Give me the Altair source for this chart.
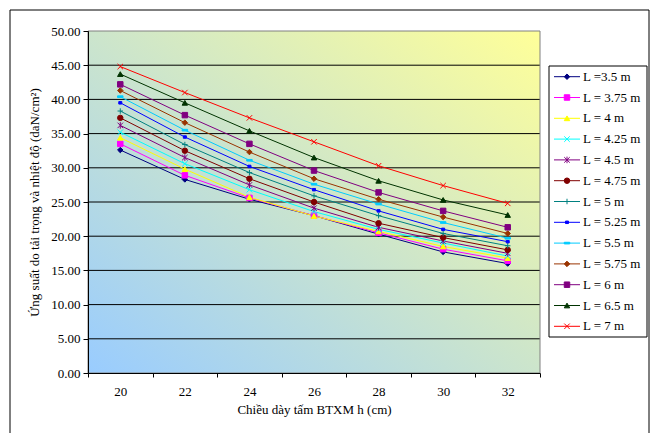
import altair as alt
import pandas as pd

# ---------------- data ----------------
h = [20, 22, 24, 26, 28, 30, 32]

series = ["L =3.5 m", "L = 3.75 m", "L = 4 m", "L = 4.25 m", "L = 4.5 m",
          "L = 4.75 m", "L = 5 m", "L = 5.25 m", "L = 5.5 m", "L = 5.75 m",
          "L = 6 m", "L = 6.5 m", "L = 7 m"]

v_3_5 = [32.6, 28.3, 25.4, 23.0, 20.3, 17.7, 16.0]
v_3_75 = [33.5, 28.9, 25.6, 23.0, 20.5, 18.1, 16.4]
v_4 = [34.4, 29.8, 25.7, 22.95, 20.7, 18.5, 16.8]
v_4_25 = [35.2, 30.6, 26.8, 23.6, 21.0, 19.0, 17.1]
v_4_5 = [36.2, 31.5, 27.5, 24.1, 21.3, 19.3, 17.5]
v_4_75 = [37.3, 32.5, 28.4, 25.0, 21.9, 19.8, 18.0]
v_5 = [38.3, 33.4, 29.3, 25.9, 23.0, 20.4, 18.6]
v_5_25 = [39.5, 34.5, 30.2, 26.8, 23.7, 21.0, 19.2]
v_5_5 = [40.4, 35.5, 31.1, 27.6, 24.7, 22.0, 19.7]
v_5_75 = [41.3, 36.6, 32.3, 28.4, 25.4, 22.8, 20.4]
v_6 = [42.2, 37.7, 33.5, 29.6, 26.4, 23.7, 21.3]
v_6_5 = [43.7, 39.5, 35.4, 31.5, 28.1, 25.3, 23.1]
v_7 = [44.8, 41.0, 37.3, 33.8, 30.3, 27.4, 24.8]

all_values = [v_3_5, v_3_75, v_4, v_4_25, v_4_5, v_4_75, v_5, v_5_25,
              v_5_5, v_5_75, v_6, v_6_5, v_7]

y_ticks = [0, 5, 10, 15, 20, 25, 30, 35, 40, 45, 50]
grid_values = [5, 10, 15, 20, 25, 30, 35, 40, 45]

# ---------------- styles ----------------
colors = ["#000080", "#FF00FF", "#FFFF00", "#00FFFF", "#800080", "#800000",
          "#008080", "#0000FF", "#00CCFF", "#993300", "#800080", "#003300",
          "#FF0000"]

X_PATH = "M-1,-1L1,1M-1,1L1,-1"
STAR_PATH = "M-1,-1L1,1M-1,1L1,-1M0,-1.2L0,1.2"
PLUS_PATH = "M-1,0L1,0M0,-1L0,1"
SHORT_DASH = "M-0.55,-0.45H0.55V0.45H-0.55Z"
LONG_DASH = "M-1,-0.3H1V0.3H-1Z"
shapes = ["diamond", "square", "triangle-up", X_PATH, STAR_PATH, "circle",
          PLUS_PATH, SHORT_DASH, LONG_DASH, "diamond", "square",
          "triangle-up", X_PATH]

rows = []
for i, (name, vals) in enumerate(zip(series, all_values)):
    for x, y in zip(h, vals):
        rows.append({"series": name, "h": x, "v": y, "idx": i})
df = pd.DataFrame(rows)
leg_df = pd.DataFrame({"series": series, "idx": list(range(len(series)))})
grid_df = pd.DataFrame({"v": grid_values})
one = pd.DataFrame({"a": [0]})

W, H = 452, 342
FONT = "Liberation Serif, Times New Roman, serif"

color_scale = alt.Scale(domain=series, range=colors)
shape_scale = alt.Scale(domain=series, range=shapes)

x_enc = alt.X(
    "h:Q",
    scale=alt.Scale(domain=[19, 33], nice=False, zero=False),
    axis=alt.Axis(
        values=list(range(19, 34)),
        labelExpr="datum.value % 2 == 0 ? datum.label : ''",
        tickOpacity={"condition": {"test": "datum.value % 2 == 1", "value": 1}, "value": 0},
        grid=False, tickSize=4, tickColor="black", domainColor="black",
        labelFont=FONT, labelFontSize=13, labelColor="black", labelPadding=8,
        titleFont=FONT, titleFontSize=13, titleFontWeight="normal",
        titleColor="black", titlePadding=5,
        title="Chiều dày tấm BTXM h (cm)", zindex=1,
    ),
)

y_enc = alt.Y(
    "v:Q",
    scale=alt.Scale(domain=[0, 50], nice=False),
    axis=alt.Axis(
        values=y_ticks, format=".2f", grid=False, tickSize=5,
        tickColor="black", domainColor="black",
        labelFont=FONT, labelFontSize=13, labelColor="black", labelPadding=3,
        titleFont=FONT, titleFontSize=13, titleFontWeight="normal",
        titleColor="black", titlePadding=9,
        title="Ứng suất do tải trọng và nhiệt độ (daN/cm²)", zindex=1,
    ),
)

gradient = alt.LinearGradient(
    gradient="linear",
    stops=[alt.GradientStop(color="#99CCFF", offset=0),
           alt.GradientStop(color="#CCE5CC", offset=0.5),
           alt.GradientStop(color="#FFFF99", offset=1)],
    x1=0, y1=1, x2=1, y2=0,
)

bg = alt.Chart(one).mark_rect(color=gradient).encode(
    x=alt.value(0), x2=alt.value(W), y=alt.value(0), y2=alt.value(H))

grid = alt.Chart(grid_df).mark_rule(color="black", strokeWidth=1).encode(y=y_enc)

border = alt.Chart(one).mark_rect(fillOpacity=0, stroke="#808080", strokeWidth=1).encode(
    x=alt.value(0), x2=alt.value(W), y=alt.value(0), y2=alt.value(H))

lines = alt.Chart(df).mark_line(strokeWidth=1).encode(
    x=x_enc, y=y_enc,
    color=alt.Color("series:N", scale=color_scale, legend=None),
    detail="idx:N",
    order="h:Q",
)

points = alt.Chart(df).mark_point(size=30, strokeWidth=1, opacity=1).encode(
    x=x_enc, y=y_enc,
    fill=alt.Fill("series:N", scale=color_scale, legend=None),
    stroke=alt.Stroke("series:N", scale=color_scale, legend=None),
    shape=alt.Shape("series:N", scale=shape_scale, legend=None),
)

main = alt.layer(bg, grid, border, lines, points)

leg_y = alt.Y("idx:Q", scale=alt.Scale(domain=[0, 12], range=[45.7, 295.3]), axis=None)

leg_box = alt.Chart(one).mark_rect(fill="white", stroke="black", strokeWidth=1).encode(
    x=alt.value(461), x2=alt.value(559), y=alt.value(35), y2=alt.value(306))

leg_line = alt.Chart(leg_df).mark_rule(strokeWidth=1).encode(
    x=alt.value(466), x2=alt.value(492), y=leg_y,
    color=alt.Color("series:N", scale=color_scale, legend=None))

leg_pt = alt.Chart(leg_df).mark_point(size=30, strokeWidth=1, opacity=1).encode(
    x=alt.value(479), y=leg_y,
    fill=alt.Fill("series:N", scale=color_scale, legend=None),
    stroke=alt.Stroke("series:N", scale=color_scale, legend=None),
    shape=alt.Shape("series:N", scale=shape_scale, legend=None))

leg_text = alt.Chart(leg_df).mark_text(
    align="left", baseline="middle", font=FONT, fontSize=13, color="black").encode(
    x=alt.value(495), y=leg_y, text="series:N")

outer = alt.Chart(one).mark_rect(fillOpacity=0, stroke="black", strokeWidth=1).encode(
    x=alt.value(-78), x2=alt.value(561), y=alt.value(-21), y2=alt.value(420))

legend = alt.layer(leg_box, leg_line, leg_pt, leg_text, outer)

chart = alt.layer(main, legend).resolve_scale(y="independent").properties(
    width=W, height=H,
    padding={"left": 88, "top": 31, "right": 113, "bottom": 60},
    autosize=alt.AutoSizeParams(type="none"),
    background="white",
).configure_view(stroke=None)

chart.save("out.html", embed_options={"renderer": "svg", "actions": False})
